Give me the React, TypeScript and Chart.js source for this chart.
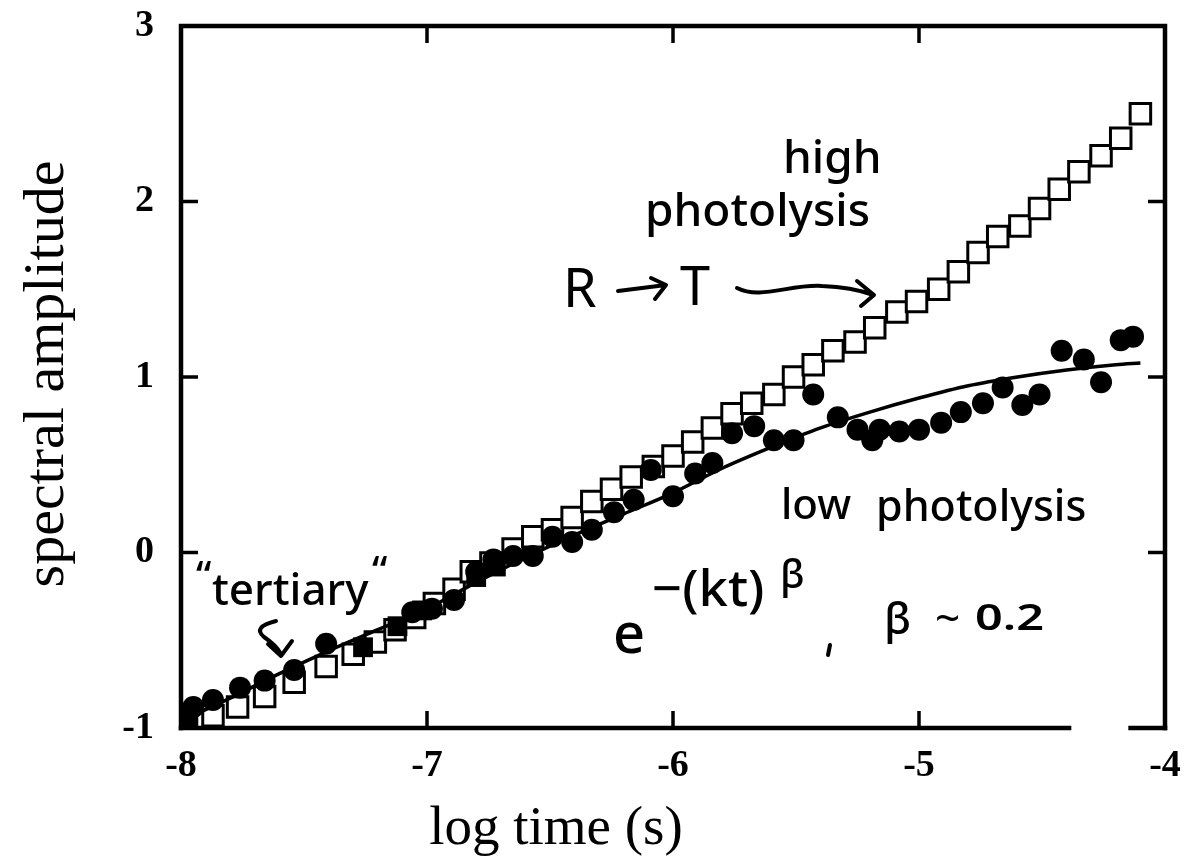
import React, { useEffect, useRef } from "react";
import { Chart, registerables } from "chart.js";

Chart.register(...registerables);

// ---------- data ----------
const xTickValues = [-8, -7, -6, -5, -4];
const yTickValues = [-1, 0, 1, 2, 3];
const innerXTicks = [-7, -6, -5];
const innerYTicks = [0, 1, 2];
const bottomAxisGap = [-4.39, -4.14];

// high photolysis (open squares)
const highX = [
  -7.95, -7.87, -7.77, -7.66, -7.54, -7.41, -7.3, -7.21, -7.13, -7.05, -6.97, -6.89,
  -6.82, -6.74, -6.65, -6.57, -6.49, -6.41, -6.33, -6.25, -6.17, -6.08, -6.0, -5.92,
  -5.84, -5.76, -5.68, -5.59, -5.51, -5.43, -5.35, -5.26, -5.18, -5.09, -5.01, -4.92,
  -4.84, -4.76, -4.68, -4.59, -4.51, -4.43, -4.35, -4.26, -4.18, -4.1,
];
const highY = [
  -0.96, -0.93, -0.88, -0.82, -0.74, -0.65, -0.58, -0.51, -0.44, -0.37, -0.29, -0.21,
  -0.11, -0.06, 0.02, 0.09, 0.13, 0.2, 0.29, 0.36, 0.43, 0.49, 0.55, 0.63,
  0.71, 0.79, 0.85, 0.9, 1.0, 1.07, 1.15, 1.2, 1.28, 1.37, 1.43, 1.5,
  1.6, 1.71, 1.8, 1.86, 1.96, 2.07, 2.17, 2.26, 2.36, 2.5,
];

// low photolysis (filled circles)
const lowX = [
  -7.95, -7.87, -7.76, -7.66, -7.54, -7.41, -7.06, -6.98, -6.89, -6.8, -6.73, -6.65,
  -6.57, -6.49, -6.41, -6.33, -6.24, -6.16, -6.09, -6.0, -5.91, -5.84, -5.76, -5.67,
  -5.59, -5.51, -5.43, -5.33, -5.25, -5.19, -5.16, -5.08, -5.0, -4.91, -4.83, -4.74,
  -4.66, -4.58, -4.51, -4.42, -4.33, -4.26, -4.18, -4.13,
];
const lowY = [
  -0.88, -0.84, -0.77, -0.73, -0.67, -0.52, -0.34, -0.32, -0.27, -0.11, -0.04, -0.02,
  -0.02, 0.09, 0.06, 0.13, 0.23, 0.3, 0.47, 0.32, 0.45, 0.51, 0.68, 0.72,
  0.64, 0.64, 0.9, 0.77, 0.7, 0.64, 0.7, 0.69, 0.7, 0.74, 0.8, 0.85,
  0.94, 0.84, 0.9, 1.15, 1.1, 0.97, 1.21, 1.23,
];

// filled squares at early times
const sqFilledX = [-7.97, -7.26, -7.12, -7.02, -6.8, -6.72];
const sqFilledY = [-0.95, -0.54, -0.42, -0.33, -0.14, -0.08];

// stretched-exponential fit curve
const fitX = [
  -8.0, -7.8, -7.6, -7.4, -7.2, -7.0, -6.8, -6.6, -6.4, -6.2, -6.0, -5.8, -5.6, -5.4,
  -5.2, -5.0, -4.8, -4.6, -4.4, -4.2, -4.1,
];
const fitY = [
  -0.96, -0.83, -0.69, -0.56, -0.44, -0.32, -0.17, -0.03, 0.1, 0.22, 0.34, 0.48, 0.6, 0.71,
  0.8, 0.88, 0.95, 1.0, 1.04, 1.07, 1.08,
];

const toPts = (xs: number[], ys: number[]) => xs.map((x, i) => ({ x, y: ys[i] }));

const HAND = '"Noto Sans"';
const SERIF = '"Liberation Serif"';

function text(
  ctx: CanvasRenderingContext2D,
  s: string,
  x: number,
  y: number,
  size: number,
  sx = 1,
  weight = "500",
  family = HAND
) {
  ctx.save();
  ctx.translate(x, y);
  ctx.scale(sx, 1);
  ctx.font = `${weight} ${size}px ${family}`;
  ctx.textAlign = "left";
  ctx.textBaseline = "alphabetic";
  ctx.fillText(s, 0, 0);
  ctx.restore();
}

const decorPlugin = {
  id: "decor",
  afterDraw(chart: any) {
    const { ctx, chartArea: a, scales } = chart;
    const xs = scales.x;
    const ys = scales.y;
    ctx.save();
    ctx.strokeStyle = "#000";
    ctx.fillStyle = "#000";
    ctx.lineCap = "square";
    ctx.lineWidth = 4.5;
    // frame: left, top, right
    ctx.beginPath();
    ctx.moveTo(a.left, a.bottom);
    ctx.lineTo(a.left, a.top);
    ctx.lineTo(a.right, a.top);
    ctx.lineTo(a.right, a.bottom);
    ctx.stroke();
    // bottom (with a break)
    const g1 = xs.getPixelForValue(bottomAxisGap[0]);
    const g2 = xs.getPixelForValue(bottomAxisGap[1]);
    ctx.beginPath();
    ctx.moveTo(a.left, a.bottom);
    ctx.lineTo(g1, a.bottom);
    ctx.moveTo(g2, a.bottom);
    ctx.lineTo(a.right, a.bottom);
    ctx.stroke();
    // inward ticks
    ctx.lineWidth = 3.5;
    ctx.lineCap = "butt";
    const TL = 17;
    ctx.beginPath();
    innerXTicks.forEach((v) => {
      const px = xs.getPixelForValue(v);
      ctx.moveTo(px, a.bottom);
      ctx.lineTo(px, a.bottom - TL);
      ctx.moveTo(px, a.top);
      ctx.lineTo(px, a.top + TL);
    });
    innerYTicks.forEach((v) => {
      const py = ys.getPixelForValue(v);
      ctx.moveTo(a.left, py);
      ctx.lineTo(a.left + TL, py);
      ctx.moveTo(a.right, py);
      ctx.lineTo(a.right - TL, py);
    });
    ctx.stroke();

    // axis titles
    ctx.textAlign = "center";
    ctx.textBaseline = "middle";
    ctx.font = `400 55px ${SERIF}`;
    ctx.fillText("log time (s)", 556, 830);
    ctx.save();
    ctx.translate(48, 374);
    ctx.rotate(-Math.PI / 2);
    ctx.font = `400 58px ${SERIF}`;
    ctx.fillText("spectral amplitude", 0, 0);
    ctx.restore();

    // handwritten annotations
    text(ctx, "high", 783, 173, 46);
    text(ctx, "photolysis", 645, 226, 46);
    text(ctx, "R", 563, 307, 54, 1, "400");
    text(ctx, "T", 680, 305, 54, 1, "400");
    ctx.lineWidth = 4;
    ctx.lineCap = "round";
    ctx.lineJoin = "round";
    ctx.beginPath();
    ctx.moveTo(618, 291);
    ctx.lineTo(666, 285);
    ctx.moveTo(651, 278);
    ctx.lineTo(666, 285);
    ctx.lineTo(655, 299);
    ctx.stroke();
    // wavy arrow
    ctx.beginPath();
    ctx.moveTo(737, 288);
    ctx.bezierCurveTo(760, 300, 790, 284, 822, 286);
    ctx.quadraticCurveTo(852, 287, 873, 295);
    ctx.moveTo(857, 281);
    ctx.lineTo(874, 295);
    ctx.lineTo(861, 306);
    ctx.stroke();

    text(ctx, "low", 781, 519, 42);
    text(ctx, "photolysis", 876, 521, 43);

    text(ctx, "e", 613, 653, 56);
    text(ctx, "\u2212(kt)", 652, 606, 50, 1.05);
    text(ctx, "\u03B2", 780, 588, 40);
    ctx.beginPath();
    ctx.moveTo(830, 645);
    ctx.lineTo(828, 655);
    ctx.stroke();

    text(ctx, "\u03B2", 884, 634, 44);
    text(ctx, "~", 935, 632, 40, 1.1);
    text(ctx, "0.2", 975, 630, 36, 1.35, "600");

    text(ctx, "\u201C", 196, 590, 40);
    text(ctx, "tertiary", 212, 605, 44);
    text(ctx, "\u201C", 372, 585, 40);
    // curly arrow
    ctx.beginPath();
    ctx.moveTo(276, 621);
    ctx.quadraticCurveTo(252, 627, 264, 637);
    ctx.quadraticCurveTo(276, 645, 281, 654);
    ctx.moveTo(268, 644);
    ctx.lineTo(281, 656);
    ctx.lineTo(292, 641);
    ctx.stroke();

    ctx.restore();
  },
};

export default function App() {
  const ref = useRef<HTMLCanvasElement | null>(null);
  useEffect(() => {
    document.body.style.margin = "0";
    if (!ref.current) return;
    const tickFont = { family: SERIF, size: 38, weight: "bold" as const };
    const chart = new Chart(ref.current, {
      type: "scatter",
      data: {
        datasets: [
          {
            label: "fit",
            data: toPts(fitX, fitY),
            showLine: true,
            borderColor: "#000",
            borderWidth: 3.5,
            pointRadius: 0,
            cubicInterpolationMode: "monotone",
            fill: false,
          },
          {
            label: "low photolysis",
            data: toPts(lowX, lowY),
            pointStyle: "circle",
            pointRadius: 11,
            backgroundColor: "#000",
            borderColor: "#000",
            borderWidth: 0,
          },
          {
            label: "filled squares",
            data: toPts(sqFilledX, sqFilledY),
            pointStyle: "rect",
            pointRadius: 14,
            backgroundColor: "#000",
            borderColor: "#000",
            borderWidth: 0,
          },
          {
            label: "high photolysis",
            data: toPts(highX, highY),
            pointStyle: "rect",
            pointRadius: 14.5,
            backgroundColor: "#fff",
            borderColor: "#000",
            borderWidth: 3,
          },
        ],
      },
      options: {
        animation: false,
        responsive: false,
        events: [],
        layout: { padding: { top: 26, right: 22, left: 0, bottom: 0 } },
        plugins: {
          legend: { display: false },
          tooltip: { enabled: false },
        },
        scales: {
          x: {
            type: "linear",
            min: -8,
            max: -4,
            afterBuildTicks: (s: any) => {
              s.ticks = xTickValues.map((v) => ({ value: v }));
            },
            afterFit: (s: any) => {
              s.height = 140;
              s.paddingLeft = 0;
              s.paddingRight = 0;
              s.paddingTop = 0;
              s.paddingBottom = 0;
            },
            grid: { display: false, drawTicks: false },
            border: { display: false },
            ticks: {
              color: "#000",
              font: tickFont,
              padding: 15,
              autoSkip: false,
              maxRotation: 0,
              callback: (v: any) => String(v),
            },
          },
          y: {
            type: "linear",
            min: -1,
            max: 3,
            afterBuildTicks: (s: any) => {
              s.ticks = yTickValues.map((v) => ({ value: v }));
            },
            afterFit: (s: any) => {
              s.width = 181;
              s.paddingLeft = 0;
              s.paddingRight = 0;
              s.paddingTop = 0;
              s.paddingBottom = 0;
            },
            grid: { display: false, drawTicks: false },
            border: { display: false },
            ticks: {
              color: "#000",
              font: tickFont,
              padding: 27,
              autoSkip: false,
              callback: (v: any) => String(v),
            },
          },
        },
      },
      plugins: [decorPlugin],
    });
    return () => chart.destroy();
  }, []);
  return (
    <div style={{ width: 1187, height: 868, background: "#fff" }}>
      <canvas ref={ref} width={1187} height={868} style={{ display: "block" }} />
    </div>
  );
}
